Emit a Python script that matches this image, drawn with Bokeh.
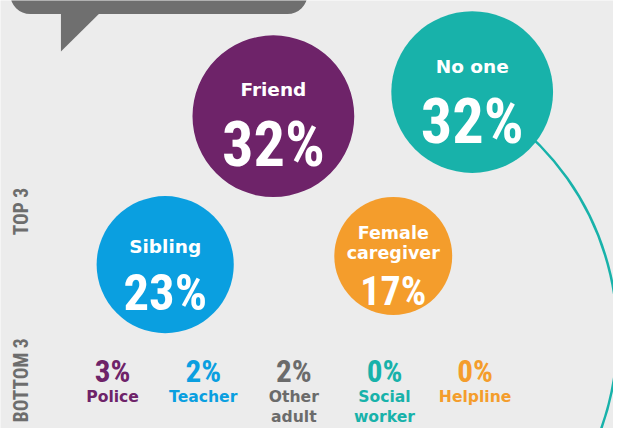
import numpy as np
from bokeh.plotting import figure
from bokeh.models import Range1d, BoxAnnotation
from bokeh.core.properties import value
from bokeh.embed import file_html
from bokeh.resources import INLINE

# ---------------- data ----------------
top_labels = ["Friend", "No one", "Sibling", "Female\ncaregiver"]
top_values = [32, 32, 23, 17]
bottom_labels = ["Police", "Teacher", "Other\nadult", "Social\nworker", "Helpline"]
bottom_values = [3, 2, 2, 0, 0]
section_labels = ["TOP 3", "BOTTOM 3"]

# ---------------- layout / style ----------------
W, H = 629, 444              # reference canvas (pixels)
PW, PH = 613, 428            # figure size
S = PW / W                   # font scale

def Y(py):                   # reference pixel row -> data y (up)
    return H - py

BG = "#ececec"
top_colors = ["#6e2369", "#18b2aa", "#0a9fe0", "#f49d2c"]
bottom_colors = ["#6e2369", "#0a9fe0", "#6b6b6b", "#18b2aa", "#f49d2c"]
top_cx = [280, 484, 169, 403]
top_cy = [120, 95, 274, 265]
top_label_base = [92, 68, 255, 241]
top_pct_base = [149, 126, 303, 302]
top_pct_size = [64, 64, 52, 41]
top_label_size = [19, 19, 19, 18]
R_MAX = 83                   # radius (px) of a 32% bubble, area-proportional

bottom_x0, bottom_dx = 115, 93
bottom_pct_base, bottom_label_base, line_gap = 385, 411, 21

LABEL_FONT = "DejaVu Sans"
PCT_FONT = "Roboto Condensed, Liberation Sans Narrow, DejaVu Sans Condensed, Roboto, sans-serif"

p = figure(width=PW, height=PH, x_range=Range1d(0, W), y_range=Range1d(0, H),
           output_backend="svg", toolbar_location=None, min_border=0,
           x_axis_type=None, y_axis_type=None)
p.grid.visible = False
p.outline_line_color = None
p.background_fill_color = BG
p.border_fill_color = BG

# speech bubble
p.add_layout(BoxAnnotation(left=10, right=315, top=Y(-40), bottom=Y(14),
                           border_radius=20, fill_color="#6f6f6f", fill_alpha=1,
                           line_color=None, level="underlay"))
p.patch(x=[62, 103, 62], y=[Y(12), Y(12), Y(53)], fill_color="#6f6f6f", line_color=None)

# teal arc from "No one"
p.arc(x=[353], y=[Y(348)], radius=280, start_angle=np.deg2rad(-30), end_angle=np.deg2rad(56),
      direction="anticlock", line_color=top_colors[1], line_width=2.5)

# bubbles
radii = [R_MAX * np.sqrt(v / max(top_values)) for v in top_values]
p.circle(x=top_cx, y=[Y(c) for c in top_cy], radius=radii, fill_color=top_colors, line_color=None)

# bubble labels
lx, ly, lt, ls = [], [], [], []
for i, lab in enumerate(top_labels):
    for j, line in enumerate(lab.split("\n")):
        lx.append(top_cx[i]); ly.append(Y(top_label_base[i] + j * 21)); lt.append(line)
        ls.append(f"{top_label_size[i] * S:.1f}px")
p.text(x=lx, y=ly, text=lt, text_font_size=ls, text_font=value(LABEL_FONT),
       text_font_style="bold", text_color="white", text_align="center", text_baseline="alphabetic")

p.text(x=top_cx, y=[Y(b) for b in top_pct_base], text=[f"{v}%" for v in top_values],
       text_font_size=[f"{s * S:.1f}px" for s in top_pct_size], text_font=value(PCT_FONT),
       text_font_style="bold", text_color="white", text_align="center", text_baseline="alphabetic")

# bottom 3 row
bx = [bottom_x0 + i * bottom_dx for i in range(len(bottom_values))]
p.text(x=bx, y=[Y(bottom_pct_base)] * len(bx), text=[f"{v}%" for v in bottom_values],
       text_font_size=f"{32 * S:.1f}px", text_font=value(PCT_FONT), text_font_style="bold",
       text_color=bottom_colors, text_align="center", text_baseline="alphabetic")
bxx, byy, btt, bcc = [], [], [], []
for i, lab in enumerate(bottom_labels):
    for j, line in enumerate(lab.split("\n")):
        bxx.append(bx[i]); byy.append(Y(bottom_label_base + j * line_gap)); btt.append(line)
        bcc.append(bottom_colors[i])
p.text(x=bxx, y=byy, text=btt, text_color=bcc, text_font_size=f"{16 * S:.1f}px",
       text_font=value(LABEL_FONT), text_font_style="bold",
       text_align="center", text_baseline="alphabetic")

# section labels (vertical)
p.text(x=[22, 22], y=[Y(219), Y(394)], text=section_labels, angle=np.pi / 2,
       text_font_size=f"{20 * S:.1f}px", text_font=value(PCT_FONT), text_font_style="bold",
       text_color="#6d6d6d", text_align="center", text_baseline="middle")

open("out.html", "w").write(file_html(p, INLINE))
